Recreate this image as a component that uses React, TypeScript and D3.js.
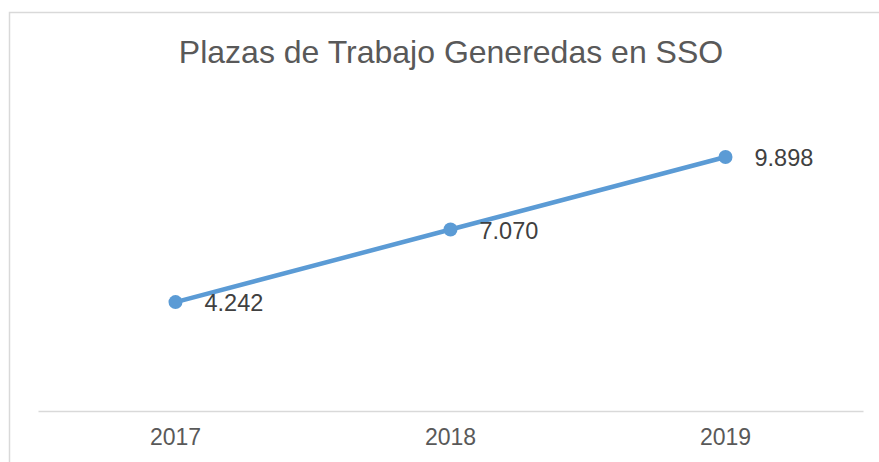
import { useEffect, useRef } from "react";
import * as d3 from "d3";

const WIDTH = 879;
const HEIGHT = 462;
const MARGIN = { top: 103, right: 16, bottom: 51, left: 38 };

const TITLE = "Plazas de Trabajo Generedas en SSO";
const years = ["2017", "2018", "2019"];
const plazas = [4242, 7070, 9898];

const LINE_COLOR = "#5B9BD5";
const TEXT_COLOR = "#595959";
const GRID_COLOR = "#D9D9D9";
const FONT = "'Liberation Sans', Arial, sans-serif";

const fmt = (v: number) => d3.format(",")(v).replace(/,/g, ".");

export default function App() {
  const ref = useRef<SVGSVGElement>(null);

  useEffect(() => {
    const svg = d3.select(ref.current);
    svg.selectAll("*").remove();

    const innerW = WIDTH - MARGIN.left - MARGIN.right;
    const bottomY = HEIGHT - MARGIN.bottom;

    const x = d3
      .scaleBand()
      .domain(years)
      .range([MARGIN.left, MARGIN.left + innerW]);
    const y = d3.scaleLinear().domain([0, 12000]).range([bottomY, MARGIN.top]);
    const cx = (d: string) => (x(d) ?? 0) + x.bandwidth() / 2;

    // chart frame
    svg
      .append("rect")
      .attr("x", 9.5)
      .attr("y", 12.5)
      .attr("width", WIDTH)
      .attr("height", HEIGHT)
      .attr("fill", "white")
      .attr("stroke", GRID_COLOR)
      .attr("stroke-width", 1.5);

    svg
      .append("text")
      .attr("x", 451)
      .attr("y", 63)
      .attr("text-anchor", "middle")
      .attr("font-family", FONT)
      .attr("font-size", 32)
      .attr("fill", TEXT_COLOR)
      .text(TITLE);

    // x axis
    const xAxis = svg
      .append("g")
      .attr("transform", `translate(0,${bottomY})`)
      .call(d3.axisBottom(x).tickSize(0).tickPadding(18));
    xAxis.select(".domain").attr("stroke", GRID_COLOR).attr("stroke-width", 1.5);
    xAxis
      .selectAll("text")
      .attr("font-family", FONT)
      .attr("font-size", 23)
      .attr("fill", TEXT_COLOR);

    const data = years.map((yr, i) => ({ yr, v: plazas[i] }));

    const line = d3
      .line<{ yr: string; v: number }>()
      .x((d) => cx(d.yr))
      .y((d) => y(d.v));

    svg
      .append("path")
      .datum(data)
      .attr("d", line)
      .attr("fill", "none")
      .attr("stroke", LINE_COLOR)
      .attr("stroke-width", 4.5)
      .attr("stroke-linecap", "round");

    svg
      .selectAll("circle.pt")
      .data(data)
      .join("circle")
      .attr("class", "pt")
      .attr("cx", (d) => cx(d.yr))
      .attr("cy", (d) => y(d.v))
      .attr("r", 7)
      .attr("fill", LINE_COLOR);

    svg
      .selectAll("text.lbl")
      .data(data)
      .join("text")
      .attr("class", "lbl")
      .attr("x", (d) => cx(d.yr) + 29)
      .attr("y", (d) => y(d.v) + 9)
      .attr("font-family", FONT)
      .attr("font-size", 23.5)
      .attr("fill", "#404040")
      .text((d) => fmt(d.v));
  }, []);

  return (
    <svg
      ref={ref}
      width={WIDTH}
      height={HEIGHT}
      style={{ position: "absolute", left: 0, top: 0, background: "white" }}
    />
  );
}
